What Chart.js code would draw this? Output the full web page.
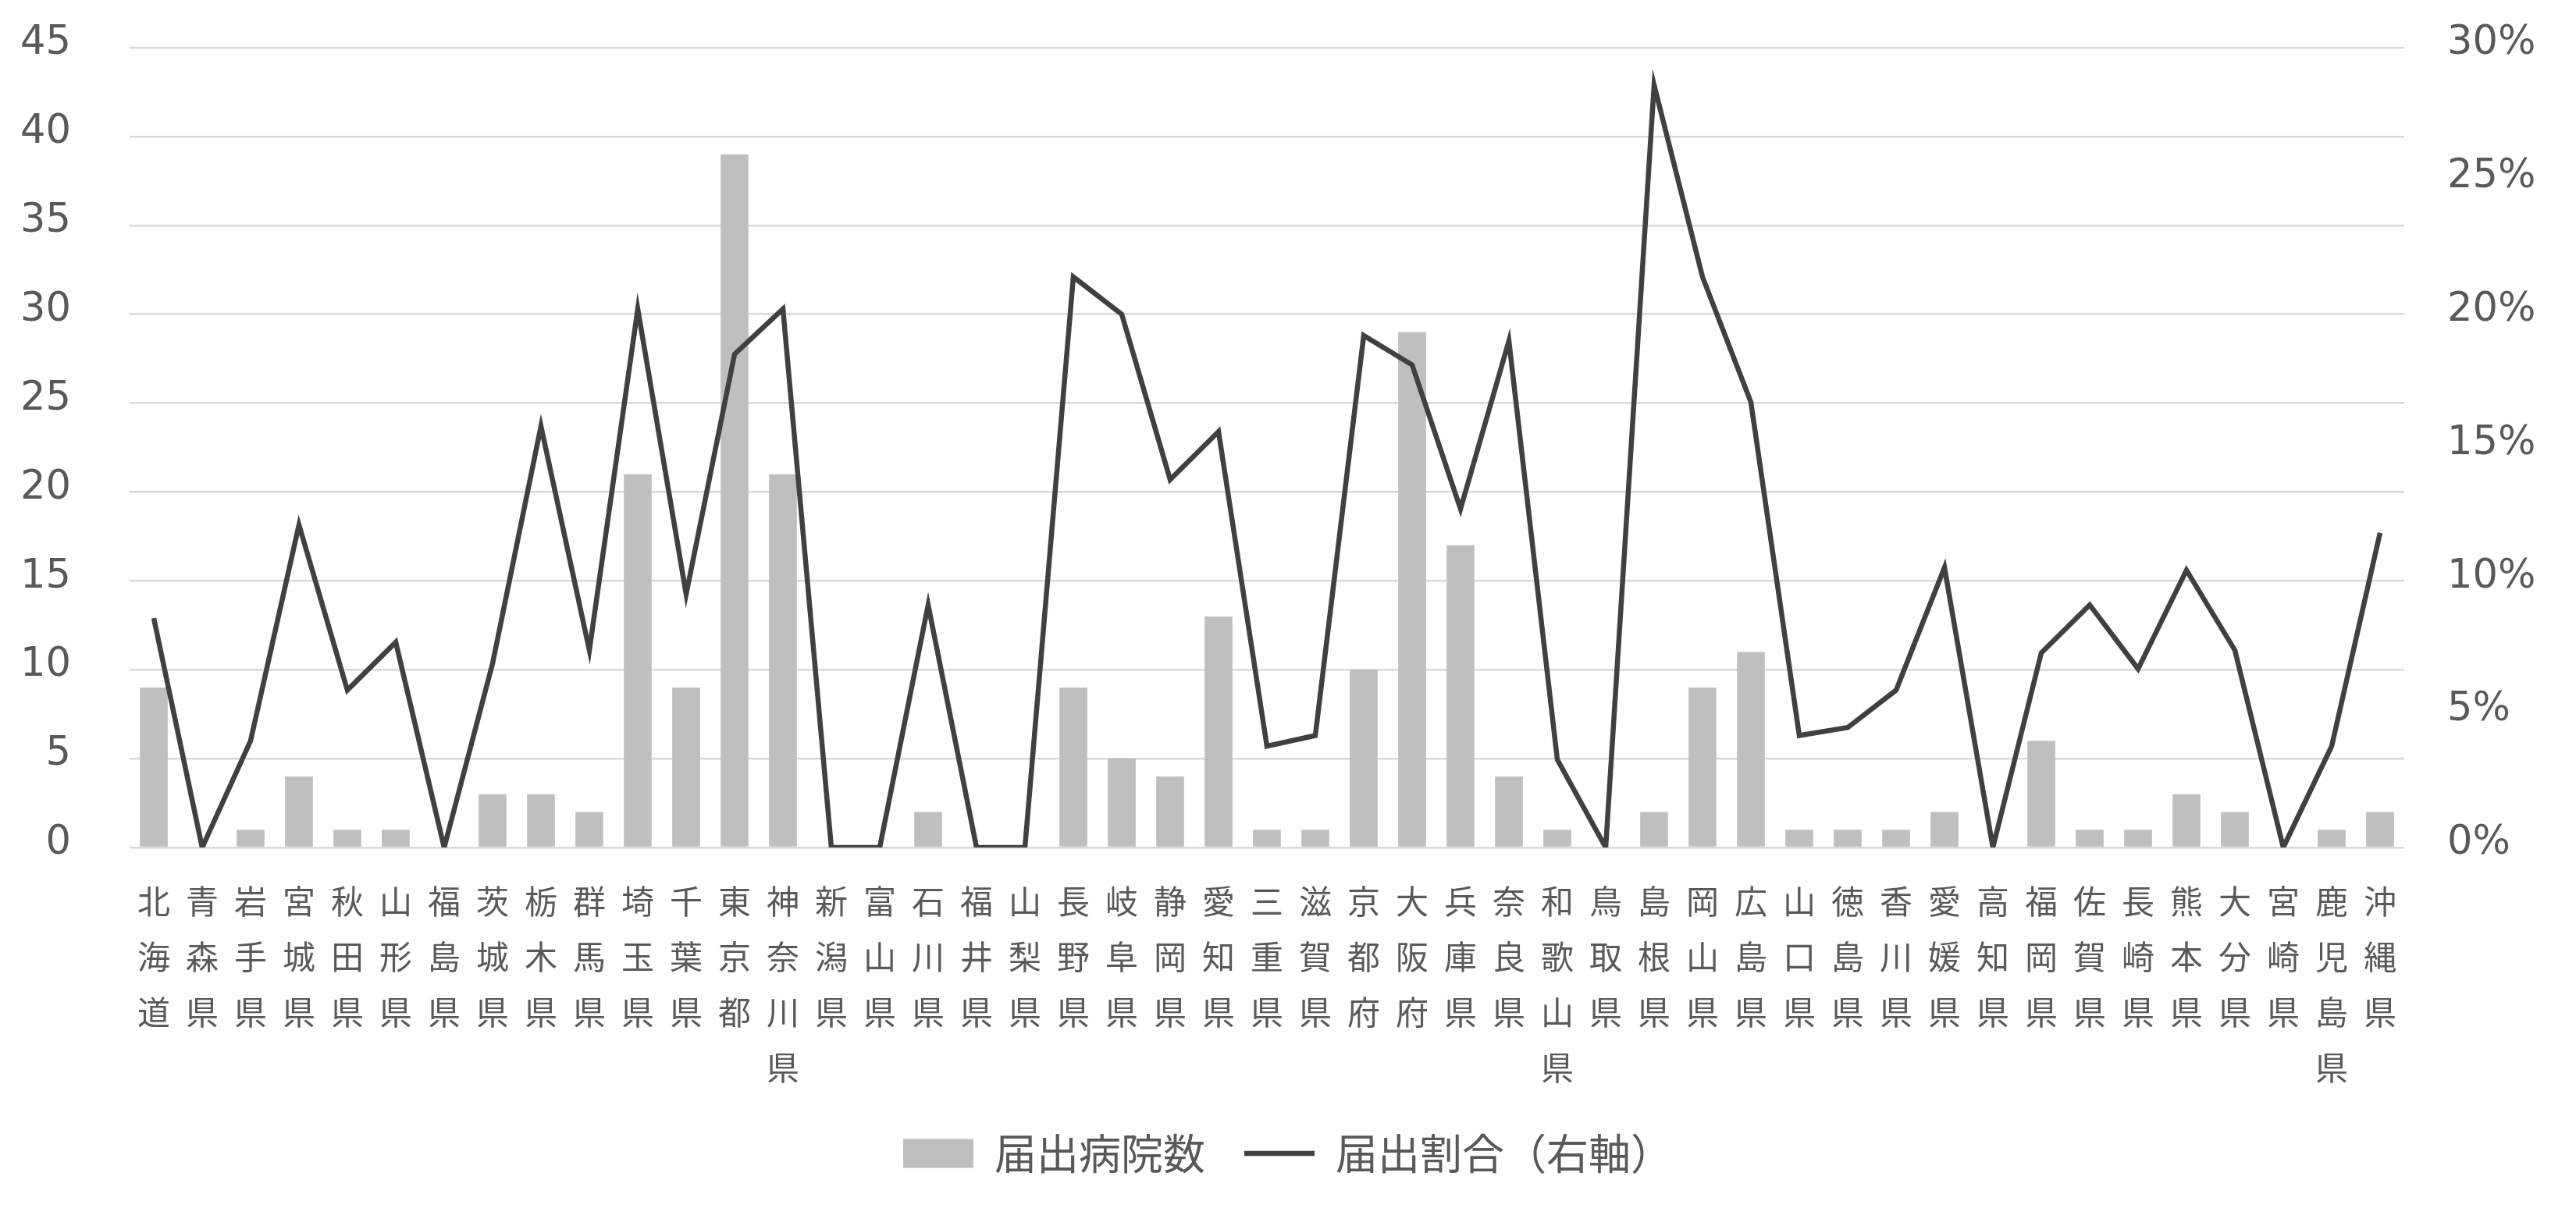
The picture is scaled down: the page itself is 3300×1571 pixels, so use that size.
<!DOCTYPE html>
<html lang="ja">
<head>
<meta charset="utf-8">
<script src="https://cdn.jsdelivr.net/npm/chart.js@4.4.1/dist/chart.umd.min.js"></script>
<style>
  html, body { margin: 0; padding: 0; background: #ffffff; }
  #wrap { width: 3300px; height: 1571px; }
</style>
</head>
<body>
<div id="wrap"><canvas id="myChart"></canvas></div>
<script>
// prefectures, written one character per line like the original axis
const prefectures = [
  "北海道", "青森県", "岩手県", "宮城県", "秋田県", "山形県", "福島県",
  "茨城県", "栃木県", "群馬県", "埼玉県", "千葉県", "東京都", "神奈川県",
  "新潟県", "富山県", "石川県", "福井県", "山梨県", "長野県", "岐阜県",
  "静岡県", "愛知県", "三重県", "滋賀県", "京都府", "大阪府", "兵庫県",
  "奈良県", "和歌山県", "鳥取県", "島根県", "岡山県", "広島県", "山口県",
  "徳島県", "香川県", "愛媛県", "高知県", "福岡県", "佐賀県", "長崎県",
  "熊本県", "大分県", "宮崎県", "鹿児島県", "沖縄県"
];

// 届出病院数 (left axis)
const hospitals = [
  9, 0, 1, 4, 1, 1, 0,
  3, 3, 2, 21, 9, 39, 21,
  0, 0, 2, 0, 0, 9, 5,
  4, 13, 1, 1, 10, 29, 17,
  4, 1, 0, 2, 9, 11, 1,
  1, 1, 2, 0, 6, 1, 1,
  3, 2, 0, 1, 2
];

// 届出割合 in % (right axis)
const ratios = [
  8.6, 0, 4.0, 12.1, 5.9, 7.7, 0,
  6.9, 15.8, 7.4, 20.2, 9.5, 18.5, 20.2,
  0, 0, 9.1, 0, 0, 21.4, 20.0,
  13.8, 15.6, 3.8, 4.2, 19.2, 18.1, 12.7,
  19.0, 3.3, 0, 28.6, 21.4, 16.7, 4.2,
  4.5, 5.9, 10.5, 0, 7.3, 9.1, 6.7,
  10.4, 7.4, 0, 3.8, 11.8
];

const leftTicks = [0, 5, 10, 15, 20, 25, 30, 35, 40, 45];
const rightTicks = [0, 5, 10, 15, 20, 25, 30];

const barColor = "#bfbfbf";
const lineColor = "#404040";
const textColor = "#595959";
const hidden = "rgba(0,0,0,0)";

const labels = prefectures.map((p) => p.split(""));

const ctx = document.getElementById("myChart");
new Chart(ctx, {
  type: "bar",
  data: {
    labels: labels,
    datasets: [
      {
        label: "届出病院数",
        data: hospitals,
        backgroundColor: barColor,
        borderWidth: 0,
        yAxisID: "y",
        order: 1,
        categoryPercentage: 1,
        barPercentage: 0.575,
      },
      {
        type: "line",
        label: "届出割合（右軸）",
        data: ratios,
        borderColor: lineColor,
        borderWidth: 6.5,
        pointRadius: 0,
        tension: 0,
        fill: false,
        yAxisID: "y1",
        order: 0,
      },
    ],
  },
  options: {
    responsive: true,
    maintainAspectRatio: false,
    devicePixelRatio: 1,
    animation: false,
    layout: {
      padding: { top: 61, bottom: 56, left: 0, right: 0 },
    },
    plugins: {
      tooltip: { enabled: false },
      legend: {
        position: "bottom",
        labels: {
          color: textColor,
          font: { family: "'Noto Sans CJK JP'", size: 54 },
          usePointStyle: true,
          pointStyleWidth: 90,
          boxHeight: 37,
          padding: 50,
          sort: (a, b) => a.datasetIndex - b.datasetIndex,
          generateLabels: (chart) => {
            const items = Chart.defaults.plugins.legend.labels.generateLabels(chart);
            items.forEach((item) => {
              if (item.datasetIndex === 0) {
                item.pointStyle = "rect";
                item.lineWidth = 0;
              } else {
                item.pointStyle = "line";
                item.lineWidth = 6.5;
                item.strokeStyle = lineColor;
              }
            });
            return items;
          },
        },
      },
    },
    scales: {
      x: {
        // ticks are hidden, their length is only used as the gap under the axis
        grid: { display: false, drawTicks: true, tickLength: 34 },
        border: { display: false },
        ticks: {
          autoSkip: false,
          maxRotation: 0,
          minRotation: 0,
          padding: 0,
          color: textColor,
          font: { family: "'Noto Sans CJK JP'", size: 42, lineHeight: "71px" },
        },
        afterFit: (scale) => {
          scale.height = 315;
        },
      },
      y: {
        position: "left",
        min: 0,
        max: 45,
        afterBuildTicks: (scale) => {
          scale.ticks = leftTicks.map((v) => ({ value: v }));
        },
        grid: { color: "#d9d9d9", lineWidth: 2.5, drawTicks: true, tickLength: 75, tickColor: hidden },
        border: { display: false },
        ticks: {
          padding: 0,
          labelOffset: -5,
          color: textColor,
          font: { family: "'DejaVu Sans'", size: 51 },
        },
        afterFit: (scale) => {
          scale.width = 166;
        },
      },
      y1: {
        position: "right",
        min: 0,
        max: 30,
        afterBuildTicks: (scale) => {
          scale.ticks = rightTicks.map((v) => ({ value: v }));
        },
        grid: { drawOnChartArea: false, drawTicks: true, tickLength: 55, tickColor: hidden },
        border: { display: false },
        ticks: {
          padding: 0,
          labelOffset: -5,
          color: textColor,
          font: { family: "'DejaVu Sans'", size: 51 },
          callback: (v) => v + "%",
        },
        afterFit: (scale) => {
          scale.width = 220;
        },
      },
    },
  },
});
</script>
</body>
</html>
